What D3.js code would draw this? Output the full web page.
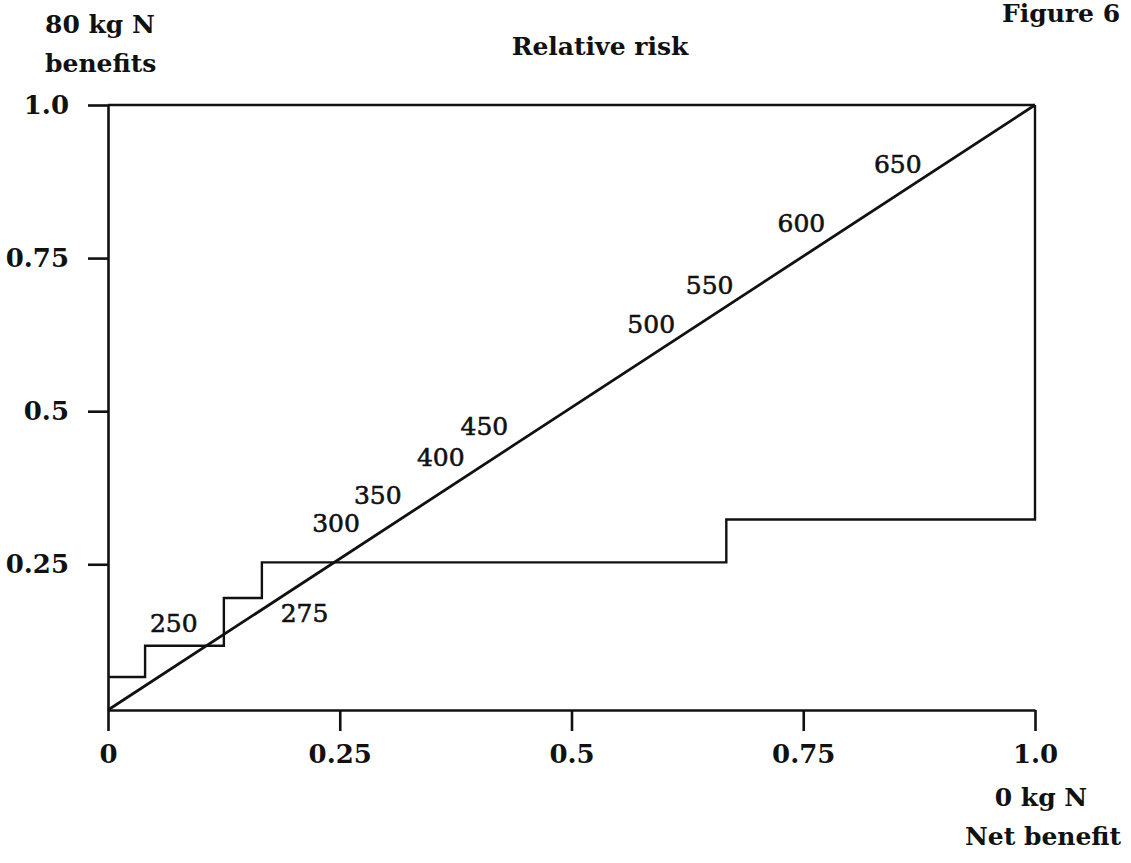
<!DOCTYPE html>
<html>
<head>
<meta charset="utf-8">
<script src="https://cdn.jsdelivr.net/npm/d3@7"></script>
<style>
body { margin: 0; background: #fff; }
svg text { font-family: "DejaVu Serif", serif; fill: #111; }
</style>
</head>
<body>
<svg width="1131" height="863"></svg>
<script>
// 80 kg N step curve
var stepX = [0, 0.04, 0.125, 0.166, 0.667, 1, 1];
var stepY = [0.066, 0.117, 0.195, 0.253, 0.323, 0.323, 1];
// diagonal
var diagX = [0, 1];
var diagY = [0.012, 1];
// price labels along the diagonal
var priceLabels = ["250", "275", "300", "350", "400", "450", "500", "550", "600", "650"];
var priceX = [0.071, 0.212, 0.246, 0.291, 0.359, 0.406, 0.586, 0.649, 0.748, 0.852];
var priceY = [0.154, 0.170, 0.317, 0.363, 0.425, 0.476, 0.642, 0.706, 0.807, 0.904];
// ticks
var xTicks = [0, 0.25, 0.5, 0.75, 1];
var xTickLabels = ["0", "0.25", "0.5", "0.75", "1.0"];
var yTicks = [0.25, 0.5, 0.75, 1];
var yTickLabels = ["0.25", "0.5", "0.75", "1.0"];

var svg = d3.select("svg");
var ink = "#111";

var x = d3.scaleLinear().domain([0, 1]).range([108, 1035]);
var y = d3.scaleLinear().domain([0.012, 1]).range([710, 105]);

var xAxis = d3.axisBottom(x)
	.tickValues(xTicks)
	.tickFormat((d, i) => xTickLabels[i])
	.tickSize(21)
	.tickSizeOuter(0)
	.tickPadding(14);

var yAxis = d3.axisLeft(y)
	.tickValues(yTicks)
	.tickFormat((d, i) => yTickLabels[i])
	.tickSize(20)
	.tickSizeOuter(0)
	.tickPadding(19);

var gx = svg.append("g")
	.attr("transform", "translate(0," + y.range()[0] + ")")
	.call(xAxis);
var gy = svg.append("g")
	.attr("transform", "translate(" + x.range()[0] + ",0)")
	.call(yAxis);

[gx, gy].forEach(g => {
	g.attr("font-family", null).attr("font-size", null);
	g.selectAll("path, line").attr("stroke", ink).attr("stroke-width", 2.6);
	g.selectAll("text")
		.attr("fill", ink)
		.style("font-size", "26px")
		.style("font-weight", "bold");
});

// top border
svg.append("line")
	.attr("x1", x(0)).attr("x2", x(1))
	.attr("y1", y(1)).attr("y2", y(1))
	.attr("stroke", ink)
	.attr("stroke-width", 2.6);

var line = d3.line()
	.x(d => x(d[0]))
	.y(d => y(d[1]));

// step curve
svg.append("path")
	.datum(d3.zip(stepX, stepY))
	.attr("d", line.curve(d3.curveStepAfter))
	.attr("fill", "none")
	.attr("stroke", ink)
	.attr("stroke-width", 2.4);

// diagonal
svg.append("path")
	.datum(d3.zip(diagX, diagY))
	.attr("d", d3.line().x(d => x(d[0])).y(d => y(d[1])))
	.attr("fill", "none")
	.attr("stroke", ink)
	.attr("stroke-width", 2.8);

// price labels
svg.append("g")
	.selectAll("text")
	.data(priceLabels)
	.enter().append("text")
	.attr("x", (d, i) => x(priceX[i]))
	.attr("y", (d, i) => y(priceY[i]))
	.attr("dy", "0.36em")
	.attr("text-anchor", "middle")
	.attr("stroke", ink)
	.attr("stroke-width", 0.6)
	.style("font-size", "25px")
	.text(d => d);

// titles and corner labels
function label(txt, px, py, anchor) {
	svg.append("text")
		.attr("x", px)
		.attr("y", py)
		.attr("text-anchor", anchor)
		.style("font-size", "25px")
		.style("font-weight", "bold")
		.text(txt);
}
label("80 kg N", 45, 33, "start");
label("benefits", 45, 72, "start");
label("Relative risk", 600, 55, "middle");
label("Figure 6", 1061, 22, "middle");
label("0 kg N", 1041, 806, "middle");
label("Net benefit", 1043, 845, "middle");
</script>
</body>
</html>
